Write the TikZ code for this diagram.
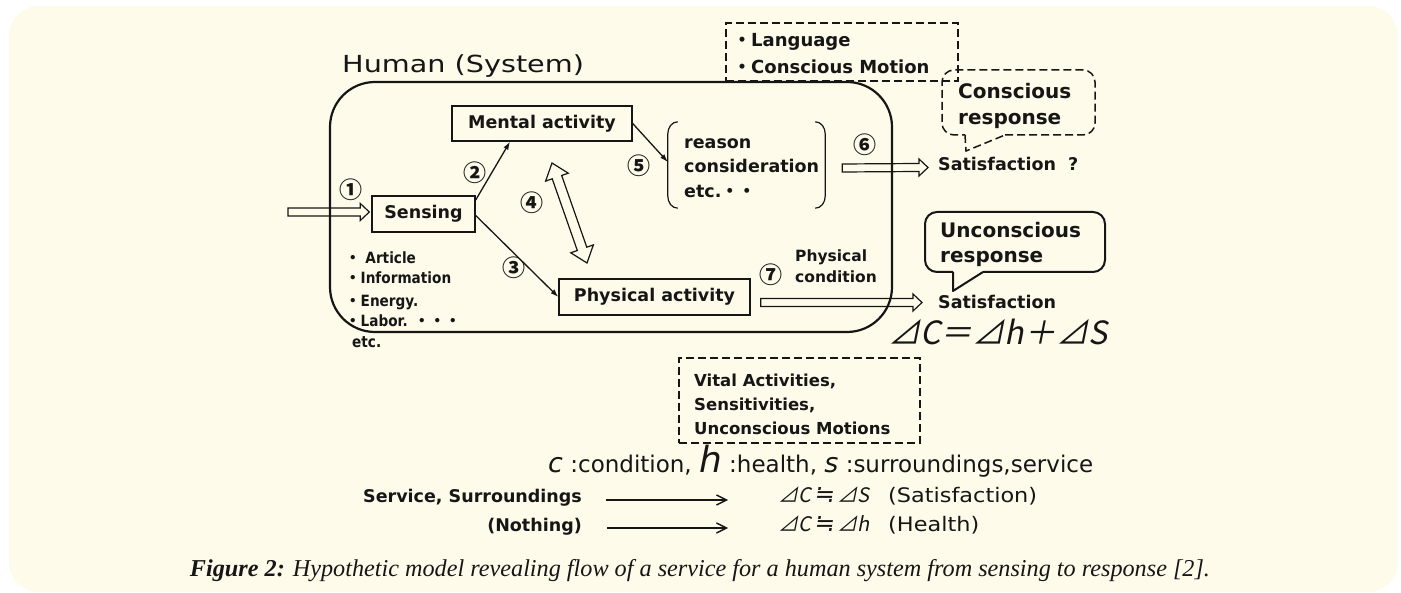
\documentclass[tikz,border=0pt]{standalone}
\usepackage{fontspec}
\usepackage{graphicx}
\setmainfont{DejaVu Sans}
\newfontfamily\dvn{DejaVu Sans}[FakeStretch=0.88]
\newfontfamily\dvw{DejaVu Sans}[FakeStretch=1.22]
\newfontfamily\dvx{DejaVu Sans}[FakeStretch=1.12]
\newfontfamily\dvsym{DejaVu Sans}[FakeSlant=0.15]
\newfontfamily\cjk{Noto Sans CJK JP}
\newfontfamily\cjksl{Noto Sans CJK JP}[FakeSlant=0.2]
\newfontfamily\capf{Liberation Serif}
\usetikzlibrary{arrows.meta,calc}
\definecolor{cardbg}{RGB}{254,251,234}
\definecolor{ink}{RGB}{22,22,22}
\newcommand\fsz[2]{\fontsize{#1}{#2}\selectfont}
\newcommand\aeq{\hspace{3pt}{\dvsym\fsz{24}{26}≒}\hspace{3pt}}
\newcommand\hollowR[2]{\draw[hol] ($(#1)+(0,-4)$) -- ($(#2)+(-9,-4)$) -- ($(#2)+(-9,-8.5)$) -- (#2) -- ($(#2)+(-9,8.5)$) -- ($(#2)+(-9,4)$) -- ($(#1)+(0,4)$) -- cycle;}
\begin{document}
\begin{tikzpicture}[x=1pt,y=-1pt,
  box/.style={draw=ink, line width=1.4pt, inner sep=0pt, font=\bfseries\fsz{17.5}{21}, text=ink},
  lbl/.style={inner sep=0pt, text=ink},
  bl/.style={lbl, font=\bfseries\fsz{17.5}{21}},
  num/.style={inner sep=0pt, text=ink, font=\cjk\bfseries\fsz{23}{25}},
  arr/.style={draw=ink, line width=1.3pt, -{Latex[length=8pt,width=5.5pt]}},
  hol/.style={draw=ink, line width=1.2pt, line join=miter},
  dsh/.style={draw=ink, line width=1.5pt, dash pattern=on 8pt off 4pt},
  bar/.style={draw=ink, line width=1.4pt, -{Straight Barb[length=10pt,width=10pt]}},
]
\useasboundingbox (0,0) rectangle (1401,593);
\fill[white] (0,0) rectangle (1401,593);
\fill[cardbg, rounded corners=30pt] (9,6) rectangle (1398,592);

% title and system frame
\node[lbl, font=\dvw\fsz{23.5}{28}, anchor=base west] (human) at (342,73) {Human (System)};
\node[draw=ink, line width=2.2pt, rounded corners=45pt, minimum width=562pt, minimum height=250pt, inner sep=0pt] (sys) at (611,207) {};

% boxes
\node[box, minimum width=180pt, minimum height=35pt] (mental) at (542,123.5) {Mental activity};
\node[box, minimum width=103pt, minimum height=36pt] (sensing) at (423.5,214) {Sensing};
\node[box, minimum width=191pt, minimum height=36pt] (physical) at (654.5,297) {Physical activity};

% bracket
\node[inner sep=0pt, minimum width=157pt, minimum height=86pt] (brk) at (746.5,165) {};
\node[lbl, align=left, font=\bfseries\fsz{17.5}{24.5}, anchor=west] (reason) at (684,168) {reason\\consideration\\etc.{\cjk ・・}};
\draw[ink, line width=1.2pt] ($(brk.north west)+(10,0)$) to[out=180,in=90] ($(brk.north west)+(0,12)$) -- ($(brk.south west)+(0,-12)$) to[out=-90,in=180] ($(brk.south west)+(10,0)$);
\draw[ink, line width=1.2pt] ($(brk.north east)+(-10,0)$) to[out=0,in=90] ($(brk.north east)+(0,12)$) -- ($(brk.south east)+(0,-12)$) to[out=-90,in=0] ($(brk.south east)+(-10,0)$);

% numbers
\node[num] (n1) at (351,190) {①};
\node[num] (n2) at (475,173) {②};
\node[num] (n3) at (514,268) {③};
\node[num] (n4) at (532,203) {④};
\node[num] (n5) at (639,166) {⑤};
\node[num] (n6) at (865,145) {⑥};
\node[num] (n7) at (771,275) {⑦};

% connectors
\draw[arr] (sensing.15) -- ($(mental.south)+(-32,0)$);
\draw[arr] ($(sensing.east)+(0,1.5)$) -- (physical.west);
\draw[arr] (mental.east) -- ($(brk.west)+(0,-3)$);

% satisfaction labels
\node[bl, anchor=base west] (sat1) at (938,171) {Satisfaction\hspace{12pt}?};
\node[bl, anchor=base west] (sat2) at (938,309) {Satisfaction};
\node[lbl, font=\bfseries\fsz{15.5}{21}, anchor=base west] (pc1) at (795,262) {Physical};
\node[lbl, font=\bfseries\fsz{15.5}{21}, anchor=base west] (pc2) at (795,283) {condition};

% hollow arrows
\coordinate (in0) at (288,212);
\coordinate (in1) at ($(sensing.west)+(-2,-2)$);
\hollowR{in0}{in1}
\coordinate (h6a) at ($(brk.east)+(17,3)$);
\coordinate (h6b) at ($(sat1.base west)+(-10,-3.5)$);
\hollowR{h6a}{h6b}
\coordinate (h7a) at ($(physical.east)+(10,5.5)$);
\coordinate (h7b) at ($(sat2.base west)+(-16,-6.5)$);
\hollowR{h7a}{h7b}
\coordinate (d4a) at (552,163);
\coordinate (d4b) at (587,263);
\draw[hol] (d4a) -- ($(d4a)+(16.27,10.19)$) -- ($(d4a)+(9.67,12.5)$) -- ($(d4b)+(-0.23,-15.8)$) -- ($(d4b)+(6.37,-18.11)$) -- (d4b) -- ($(d4b)+(-16.27,-10.19)$) -- ($(d4b)+(-9.67,-12.5)$) -- ($(d4a)+(0.23,15.8)$) -- ($(d4a)+(-6.37,18.11)$) -- cycle;

% left list
\node[lbl, font=\dvn\bfseries\fsz{15.5}{18}, anchor=base west] (li1) at (345,264) {{\cjk ・} Article};
\node[lbl, font=\dvn\bfseries\fsz{15.5}{18}, anchor=base west] (li2) at (345,284) {{\cjk ・}Information};
\node[lbl, font=\dvn\bfseries\fsz{15.5}{18}, anchor=base west] (li3) at (345,307) {{\cjk ・}Energy.};
\node[lbl, font=\dvn\bfseries\fsz{15.5}{18}, anchor=base west] (li4) at (345,327) {{\cjk ・}Labor. {\cjk ・・・}};
\node[lbl, font=\dvn\bfseries\fsz{15.5}{18}, anchor=base west] (li5) at (352,348) {etc.};

% top dashed box
\node[dsh, minimum width=232pt, minimum height=58pt, inner sep=0pt] (lang) at (842,52) {};
\node[bl, font=\bfseries\fsz{18}{22}, anchor=base west] (lg1) at (733,47) {{\cjk ・}Language};
\node[bl, font=\bfseries\fsz{18}{22}, anchor=base west] (lg2) at (733,74) {{\cjk ・}Conscious Motion};

% conscious response callout
\node[bl, font=\bfseries\fsz{20}{26}, anchor=base west] (cr1) at (958,99) {Conscious};
\node[bl, font=\bfseries\fsz{20}{26}, anchor=base west] (cr2) at (958,125) {response};
\draw[dsh] (965,135) -- (966,151) -- (1005,135);
\draw[dsh, rounded corners=12pt] (1005,135) -- (1095,135) -- (1095,70) -- (942,70) -- (942,135) -- (965,135);

% unconscious response callout
\node[bl, font=\bfseries\fsz{20}{26}, anchor=base west] (ur1) at (940,238) {Unconscious};
\node[bl, font=\bfseries\fsz{20}{26}, anchor=base west] (ur2) at (940,263) {response};
\draw[ink, line width=2pt, line join=round] (953,272) -- (953,291) -- (983,272);
\draw[ink, line width=2pt, rounded corners=12pt] (983,272) -- (1105,272) -- (1105,212) -- (925,212) -- (925,272) -- (953,272);

% equation
\node[lbl, font=\cjksl\fsz{32}{36}, anchor=base west] (eqc) at (888,345) {⊿C＝⊿h＋⊿S};

% vital box
\node[dsh, minimum width=241pt, minimum height=85pt, inner sep=0pt] (vital) at (799.5,400.5) {};
\node[lbl, font=\bfseries\fsz{16.5}{24}, anchor=base west] (v1) at (694,387) {Vital Activities,};
\node[lbl, font=\bfseries\fsz{16.5}{24}, anchor=base west] (v2) at (694,411) {Sensitivities,};
\node[lbl, font=\bfseries\fsz{16.5}{24}, anchor=base west] (v3) at (694,435) {Unconscious Motions};

% legend
\node[lbl, font=\fsz{23}{26}, anchor=base west] (legend) at (548,473) {{\itshape\fsz{27}{30}c} :condition, {\itshape\fsz{36}{40}h} :health, {\itshape\fsz{27}{30}s} :surroundings,service};

% bottom rows
\node[bl, anchor=base west] (serv) at (363,503) {Service, Surroundings};
\node[bl, anchor=base east] (noth) at (582,531) {(Nothing)};
\node[lbl, font=\cjksl\fsz{20}{24}, anchor=base west] (eqS) at (778,503) {⊿C\aeq⊿S};
\node[lbl, font=\cjksl\fsz{20}{24}, anchor=base west] (eqH) at (778,531) {⊿C\aeq⊿h};
\node[lbl, font=\dvx\fsz{20}{24}, anchor=base west] (satp) at (888,503) {(Satisfaction)};
\node[lbl, font=\dvx\fsz{20}{24}, anchor=base west] (healp) at (888,531) {(Health)};
\draw[bar] ($(serv.base east)+(24,-3)$) -- ($(eqS.base west)+(-50,-3)$);
\draw[bar] ($(noth.base east)+(25,-3)$) -- ($(eqH.base west)+(-50,-3)$);

% caption
\node[lbl, anchor=base] (cap) at (700,576) {\resizebox{1020pt}{!}{\capf\fsz{22}{26}\itshape{\bfseries Figure 2:} Hypothetic model revealing flow of a service for a human system from sensing to response [2].}};
\end{tikzpicture}
\end{document}
